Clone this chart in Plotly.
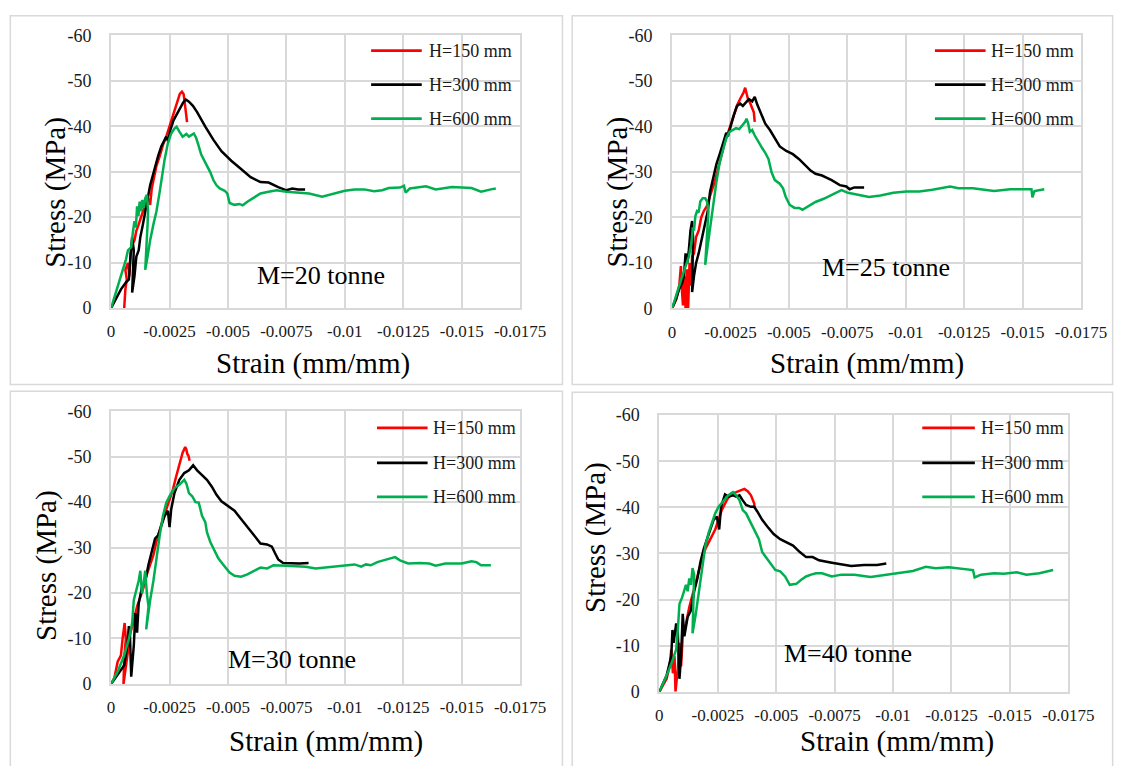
import plotly.graph_objects as go

W, H = 1144, 766
FONT = "Liberation Serif"

# ---------------- data (strain mm/mm, stress MPa) ----------------
strain_ticks = [0, -0.0025, -0.005, -0.0075, -0.01, -0.0125, -0.015, -0.0175]
strain_labels = ["0", "-0.0025", "-0.005", "-0.0075", "-0.01", "-0.0125", "-0.015", "-0.0175"]
stress_ticks = [0, -10, -20, -30, -40, -50, -60]
stress_labels = ["0", "-10", "-20", "-30", "-40", "-50", "-60"]
series_names = ["H=150 mm", "H=300 mm", "H=600 mm"]
panel_labels = ["M=20 tonne", "M=25 tonne", "M=30 tonne", "M=40 tonne"]

m20_h150 = [(-0.00056, 0), (-0.00061, -4.1), (-0.00067, -6.3), (-0.00061, -8.4), (-0.00072, -9.9), (-0.00078, -7.0),
            (-0.00083, -12.0), (-0.00092, -14.1), (-0.00100, -14.9), (-0.00108, -17.0), (-0.00118, -18.4),
            (-0.00128, -19.9), (-0.00139, -21.6), (-0.00150, -23.4), (-0.00160, -24.1), (-0.00167, -22.7),
            (-0.00174, -26.3), (-0.00183, -28.4), (-0.00194, -31.3), (-0.00208, -33.4), (-0.00222, -35.9),
            (-0.00236, -37.7), (-0.00247, -39.5), (-0.00261, -42.0), (-0.00275, -44.1), (-0.00286, -45.9),
            (-0.00294, -47.1), (-0.00303, -47.6), (-0.00310, -47.1), (-0.00314, -45.6), (-0.00319, -43.4),
            (-0.00322, -42.0), (-0.00325, -40.9)]
m20_h300 = [(0, 0), (-0.00021, -2.0), (-0.00042, -4.1), (-0.00063, -5.6), (-0.00076, -6.3), (-0.00083, -11.3),
            (-0.00090, -15.6), (-0.00097, -12.7), (-0.00090, -3.4), (-0.00100, -7.0), (-0.00108, -11.3),
            (-0.00118, -12.7), (-0.00125, -15.6), (-0.00136, -18.4), (-0.00146, -21.3), (-0.00156, -24.1),
            (-0.00167, -27.0), (-0.00178, -29.1), (-0.00189, -31.3), (-0.00201, -33.4), (-0.00215, -35.6),
            (-0.00229, -37.0), (-0.00236, -37.7), (-0.00244, -36.6), (-0.00253, -39.1), (-0.00267, -41.3),
            (-0.00281, -42.7), (-0.00294, -44.1), (-0.00308, -45.2), (-0.00319, -45.9), (-0.00333, -45.4),
            (-0.00350, -44.5), (-0.00368, -43.1), (-0.00403, -39.9), (-0.00438, -37.0), (-0.00472, -34.5),
            (-0.00514, -32.4), (-0.00556, -30.6), (-0.00597, -28.8), (-0.00639, -27.7), (-0.00674, -27.6),
            (-0.00715, -26.6), (-0.00750, -25.9), (-0.00775, -26.3), (-0.00800, -26.1), (-0.00830, -26.1)]
m20_h600 = [(0, 0), (-0.00021, -3.4), (-0.00042, -7.0), (-0.00063, -10.6), (-0.00072, -12.7), (-0.00086, -13.4),
            (-0.00094, -17.0), (-0.00100, -19.1), (-0.00106, -17.7), (-0.00111, -22.4), (-0.00117, -20.2),
            (-0.00122, -23.4), (-0.00128, -21.3), (-0.00133, -23.8), (-0.00139, -22.0), (-0.00146, -24.1),
            (-0.00153, -24.9), (-0.00158, -21.3), (-0.00156, -18.4), (-0.00150, -12.7), (-0.00146, -8.4),
            (-0.00156, -11.3), (-0.00167, -14.9), (-0.00181, -18.4), (-0.00194, -21.3), (-0.00208, -25.6),
            (-0.00219, -29.9), (-0.00229, -32.7), (-0.00243, -36.3), (-0.00257, -38.4), (-0.00271, -39.5),
            (-0.00280, -39.9), (-0.00292, -38.8), (-0.00306, -37.7), (-0.00322, -38.3), (-0.00333, -37.7),
            (-0.00354, -38.4), (-0.00364, -37.4), (-0.00375, -35.6), (-0.00385, -33.8), (-0.00396, -32.7),
            (-0.00410, -31.3), (-0.00424, -29.9), (-0.00438, -28.1), (-0.00451, -27.0), (-0.00465, -26.3),
            (-0.00486, -25.8), (-0.00497, -25.2), (-0.00507, -23.1), (-0.00528, -22.7), (-0.00549, -22.9),
            (-0.00563, -22.6), (-0.00583, -23.4), (-0.00611, -24.3), (-0.00639, -25.2), (-0.00674, -25.6),
            (-0.00708, -25.9), (-0.00750, -25.6), (-0.00800, -25.4), (-0.00847, -25.2), (-0.00903, -24.5),
            (-0.00944, -25.1), (-0.01000, -25.8), (-0.01042, -26.1), (-0.01083, -26.1), (-0.01125, -25.7),
            (-0.01160, -25.9), (-0.01188, -26.4), (-0.01236, -26.5), (-0.01253, -26.9), (-0.01260, -25.4),
            (-0.01278, -26.3), (-0.01306, -26.5), (-0.01347, -26.8), (-0.01389, -26.1), (-0.01458, -26.6),
            (-0.01542, -26.4), (-0.01583, -25.6), (-0.01625, -26.1), (-0.01646, -26.3)]

m25_h150 = [(0, 0), (-0.00019, -2.1), (-0.00031, -5.0), (-0.00038, -9.3), (-0.00042, -4.3), (-0.00047, -0.7),
            (-0.00053, -7.1), (-0.00058, 0), (-0.00064, -8.6), (-0.00069, 0), (-0.00075, -10.0), (-0.00081, -5.0),
            (-0.00086, -11.4), (-0.00094, -12.1), (-0.00103, -15.7), (-0.00114, -17.1), (-0.00125, -20.0),
            (-0.00136, -21.4), (-0.00149, -22.5), (-0.00158, -24.2), (-0.00169, -25.7), (-0.00183, -27.8),
            (-0.00197, -30.6), (-0.00211, -33.5), (-0.00225, -36.4), (-0.00239, -38.5), (-0.00253, -40.6),
            (-0.00267, -42.8), (-0.00281, -44.9), (-0.00294, -46.3), (-0.00306, -47.4), (-0.00313, -48.5),
            (-0.00318, -47.4), (-0.00325, -46.0), (-0.00333, -45.3), (-0.00343, -44.2), (-0.00350, -43.1),
            (-0.00354, -41.0)]
m25_h300 = [(0, 0), (-0.00017, -2.1), (-0.00031, -4.3), (-0.00044, -5.7), (-0.00051, -7.1), (-0.00058, -12.1),
            (-0.00065, -10.0), (-0.00072, -12.8), (-0.00079, -17.1), (-0.00086, -19.2), (-0.00090, -15.7),
            (-0.00086, -3.6), (-0.00094, -7.1), (-0.00103, -10.0), (-0.00114, -12.1), (-0.00128, -15.7),
            (-0.00142, -18.5), (-0.00153, -21.4), (-0.00163, -25.7), (-0.00176, -28.9), (-0.00190, -31.7),
            (-0.00204, -33.9), (-0.00218, -36.4), (-0.00232, -38.6), (-0.00239, -37.8), (-0.00250, -39.9),
            (-0.00264, -42.4), (-0.00278, -44.5), (-0.00292, -45.0), (-0.00303, -44.5), (-0.00315, -45.3),
            (-0.00329, -46.0), (-0.00343, -45.5), (-0.00354, -46.5), (-0.00364, -44.9), (-0.00378, -43.1),
            (-0.00399, -40.6), (-0.00419, -39.2), (-0.00440, -37.4), (-0.00461, -35.6), (-0.00489, -34.6),
            (-0.00517, -33.9), (-0.00544, -32.8), (-0.00572, -31.4), (-0.00593, -30.3), (-0.00614, -29.6),
            (-0.00642, -29.2), (-0.00663, -28.7), (-0.00683, -28.2), (-0.00718, -27.1), (-0.00746, -26.8),
            (-0.00760, -26.2), (-0.00780, -26.6), (-0.00822, -26.6)]
m25_h600 = [(0, 0), (-0.00017, -2.5), (-0.00031, -5.0), (-0.00044, -7.1), (-0.00058, -9.3), (-0.00072, -11.4),
            (-0.00083, -14.3), (-0.00089, -17.8), (-0.00094, -17.1), (-0.00100, -20.3), (-0.00107, -21.4),
            (-0.00114, -21.1), (-0.00121, -23.5), (-0.00131, -24.2), (-0.00142, -24.2), (-0.00150, -23.5),
            (-0.00156, -21.4), (-0.00150, -15.7), (-0.00142, -9.6), (-0.00150, -12.8), (-0.00163, -17.8),
            (-0.00176, -22.8), (-0.00190, -27.8), (-0.00204, -32.1), (-0.00218, -34.9), (-0.00232, -37.4),
            (-0.00246, -38.8), (-0.00260, -39.2), (-0.00274, -39.6), (-0.00288, -39.4), (-0.00301, -40.3),
            (-0.00313, -41.0), (-0.00319, -41.7), (-0.00326, -40.6), (-0.00333, -38.8), (-0.00343, -39.2),
            (-0.00353, -38.1), (-0.00371, -36.4), (-0.00385, -35.3), (-0.00399, -34.2), (-0.00413, -32.8),
            (-0.00426, -29.9), (-0.00440, -28.2), (-0.00461, -27.4), (-0.00475, -26.4), (-0.00486, -24.6),
            (-0.00503, -22.8), (-0.00524, -22.1), (-0.00544, -22.1), (-0.00558, -21.7), (-0.00586, -22.5),
            (-0.00614, -23.4), (-0.00649, -24.1), (-0.00683, -24.9), (-0.00711, -25.7), (-0.00725, -26.0),
            (-0.00753, -25.4), (-0.00795, -25.0), (-0.00843, -24.5), (-0.00892, -24.8), (-0.00947, -25.4),
            (-0.01003, -25.7), (-0.01058, -25.7), (-0.01114, -26.1), (-0.01163, -26.6), (-0.01190, -26.8),
            (-0.01225, -26.4), (-0.01288, -26.4), (-0.01336, -26.1), (-0.01378, -25.8), (-0.01447, -26.2),
            (-0.01503, -26.3), (-0.01538, -26.2), (-0.01542, -24.4), (-0.01551, -25.8), (-0.01593, -26.2)]

m30_h150 = [(0, 0), (-0.00014, -1.3), (-0.00028, -4.9), (-0.00042, -6.3), (-0.00049, -9.9), (-0.00058, -13.4),
            (-0.00063, -9.9), (-0.00056, -5.6), (-0.00053, 0), (-0.00069, -5.6), (-0.00083, -11.3),
            (-0.00097, -14.1), (-0.00111, -17.0), (-0.00125, -19.1), (-0.00139, -21.3), (-0.00153, -24.1),
            (-0.00167, -26.3), (-0.00181, -28.4), (-0.00194, -31.3), (-0.00208, -34.1), (-0.00222, -36.3),
            (-0.00236, -38.4), (-0.00250, -40.6), (-0.00264, -42.7), (-0.00278, -45.6), (-0.00292, -48.4),
            (-0.00306, -50.9), (-0.00317, -52.1), (-0.00322, -51.6), (-0.00326, -50.6), (-0.00331, -50.2),
            (-0.00336, -49.1)]
m30_h300 = [(0, 0), (-0.00028, -2.0), (-0.00056, -4.1), (-0.00069, -8.4), (-0.00076, -12.7), (-0.00081, -9.9),
            (-0.00086, -1.6), (-0.00097, -8.4), (-0.00104, -15.6), (-0.00111, -11.3), (-0.00118, -17.7),
            (-0.00132, -21.3), (-0.00146, -22.7), (-0.00160, -26.3), (-0.00174, -29.1), (-0.00188, -32.0),
            (-0.00201, -32.7), (-0.00215, -34.9), (-0.00229, -37.0), (-0.00243, -38.1), (-0.00250, -34.5),
            (-0.00257, -38.4), (-0.00271, -42.0), (-0.00292, -44.9), (-0.00313, -46.4), (-0.00333, -47.0),
            (-0.00351, -48.1), (-0.00368, -47.0), (-0.00389, -45.9), (-0.00410, -44.9), (-0.00431, -43.4),
            (-0.00451, -41.6), (-0.00472, -40.2), (-0.00500, -39.1), (-0.00528, -38.1), (-0.00556, -36.3),
            (-0.00583, -34.5), (-0.00611, -32.7), (-0.00639, -30.9), (-0.00667, -30.7), (-0.00688, -30.2),
            (-0.00701, -28.8), (-0.00715, -27.4), (-0.00736, -26.6), (-0.00764, -26.5), (-0.00806, -26.5),
            (-0.00845, -26.6)]
m30_h600 = [(0, 0), (-0.00028, -2.7), (-0.00056, -6.3), (-0.00076, -9.9), (-0.00090, -13.4), (-0.00097, -18.4),
            (-0.00104, -19.9), (-0.00111, -21.3), (-0.00118, -22.7), (-0.00125, -24.9), (-0.00132, -19.9),
            (-0.00139, -22.0), (-0.00146, -24.9), (-0.00153, -19.9), (-0.00160, -17.0), (-0.00150, -12.0),
            (-0.00156, -14.5), (-0.00167, -18.4), (-0.00181, -22.7), (-0.00194, -27.7), (-0.00208, -32.7),
            (-0.00222, -37.0), (-0.00236, -39.9), (-0.00250, -41.3), (-0.00271, -43.1), (-0.00292, -43.8),
            (-0.00313, -44.9), (-0.00322, -44.1), (-0.00333, -42.0), (-0.00347, -41.3), (-0.00361, -40.0),
            (-0.00375, -39.9), (-0.00389, -37.0), (-0.00403, -35.6), (-0.00410, -33.4), (-0.00424, -31.3),
            (-0.00438, -29.9), (-0.00458, -27.7), (-0.00479, -26.3), (-0.00507, -24.5), (-0.00528, -23.8),
            (-0.00556, -23.6), (-0.00583, -24.1), (-0.00611, -24.9), (-0.00639, -25.6), (-0.00667, -25.4),
            (-0.00694, -26.1), (-0.00750, -26.0), (-0.00833, -25.8), (-0.00875, -25.4), (-0.00944, -25.8),
            (-0.01000, -26.1), (-0.01042, -26.3), (-0.01070, -25.8), (-0.01090, -26.3), (-0.01111, -26.1),
            (-0.01139, -26.8), (-0.01180, -27.4), (-0.01215, -27.9), (-0.01236, -27.2), (-0.01271, -26.5),
            (-0.01320, -26.6), (-0.01361, -26.5), (-0.01389, -26.0), (-0.01430, -26.5), (-0.01500, -26.5),
            (-0.01542, -27.0), (-0.01563, -26.8), (-0.01583, -26.1), (-0.01625, -26.1)]

m40_h150 = [(0, 0), (-0.00031, -2.8), (-0.00044, -5.6), (-0.00051, -9.2), (-0.00058, -4.0), (-0.00065, -7.7),
            (-0.00069, 0), (-0.00079, -4.9), (-0.00086, -10.6), (-0.00093, -5.5), (-0.00100, -12.0),
            (-0.00114, -14.8), (-0.00128, -18.3), (-0.00142, -21.1), (-0.00156, -23.9), (-0.00169, -26.1),
            (-0.00183, -28.9), (-0.00197, -31.0), (-0.00211, -32.4), (-0.00225, -33.8), (-0.00239, -35.2),
            (-0.00253, -37.3), (-0.00267, -39.4), (-0.00288, -41.5), (-0.00308, -43.0), (-0.00329, -43.3),
            (-0.00350, -43.7), (-0.00364, -44.0), (-0.00378, -43.5), (-0.00392, -42.6), (-0.00406, -40.8),
            (-0.00408, -39.8)]
m40_h300 = [(0, 0), (-0.00031, -3.5), (-0.00051, -7.7), (-0.00056, -13.4), (-0.00061, -10.6), (-0.00065, -12.0),
            (-0.00072, -14.8), (-0.00079, -12.7), (-0.00086, -2.8), (-0.00093, -7.7), (-0.00100, -16.9),
            (-0.00107, -12.0), (-0.00121, -16.2), (-0.00135, -17.6), (-0.00149, -21.8), (-0.00163, -24.6),
            (-0.00176, -28.2), (-0.00190, -31.0), (-0.00204, -33.1), (-0.00218, -35.2), (-0.00232, -37.3),
            (-0.00246, -38.0), (-0.00256, -35.2), (-0.00264, -40.1), (-0.00281, -42.8), (-0.00297, -42.3),
            (-0.00315, -42.6), (-0.00329, -42.3), (-0.00343, -42.6), (-0.00357, -41.5), (-0.00371, -40.5),
            (-0.00392, -40.1), (-0.00406, -40.1), (-0.00419, -39.1), (-0.00440, -37.3), (-0.00461, -35.9),
            (-0.00489, -34.2), (-0.00517, -33.1), (-0.00544, -32.4), (-0.00572, -31.7), (-0.00601, -30.3),
            (-0.00628, -29.2), (-0.00656, -29.2), (-0.00683, -28.5), (-0.00738, -28.0), (-0.00779, -27.6),
            (-0.00821, -27.3), (-0.00876, -27.5), (-0.00932, -27.5), (-0.00971, -27.8)]
m40_h600 = [(0, 0), (-0.00031, -3.5), (-0.00058, -7.0), (-0.00072, -9.2), (-0.00079, -13.4), (-0.00086, -19.0),
            (-0.00097, -20.4), (-0.00107, -21.8), (-0.00114, -23.2), (-0.00121, -21.8), (-0.00128, -24.6),
            (-0.00135, -23.2), (-0.00142, -26.8), (-0.00149, -25.4), (-0.00142, -12.7), (-0.00156, -16.9),
            (-0.00169, -21.8), (-0.00183, -26.8), (-0.00197, -31.7), (-0.00211, -34.5), (-0.00225, -36.6),
            (-0.00239, -38.7), (-0.00253, -40.1), (-0.00274, -41.5), (-0.00294, -42.6), (-0.00315, -43.3),
            (-0.00329, -42.6), (-0.00343, -41.5), (-0.00357, -39.4), (-0.00371, -38.7), (-0.00385, -37.3),
            (-0.00399, -35.9), (-0.00413, -34.5), (-0.00426, -33.1), (-0.00440, -30.3), (-0.00461, -28.9),
            (-0.00482, -27.5), (-0.00496, -26.4), (-0.00517, -26.1), (-0.00538, -25.0), (-0.00558, -23.2),
            (-0.00586, -23.4), (-0.00607, -24.3), (-0.00628, -25.0), (-0.00649, -25.4), (-0.00670, -25.7),
            (-0.00696, -25.7), (-0.00738, -25.0), (-0.00779, -25.4), (-0.00835, -25.4), (-0.00904, -24.9),
            (-0.00974, -25.4), (-0.01029, -25.7), (-0.01085, -26.2), (-0.01140, -27.1), (-0.01182, -26.8),
            (-0.01238, -27.0), (-0.01293, -26.6), (-0.01342, -26.4), (-0.01349, -24.8), (-0.01376, -25.4),
            (-0.01432, -25.7), (-0.01474, -25.6), (-0.01529, -25.9), (-0.01571, -25.4), (-0.01626, -25.7),
            (-0.01685, -26.4)]

# label positions inside each panel (data coordinates)
label_strain = [-0.00898, -0.00917, -0.00773, -0.00806]
label_stress = [-7.1, -9.1, -5.4, -8.2]

# ---------------- layout geometry (pixels) ----------------
def fx(x):
    return x / W


def fy(y):
    return 1 - y / H


panels = [
    dict(data=[m20_h150, m20_h300, m20_h600], xpx=(110, 530), ypx=(26, 306),
         ytitle=(52, 187), xtitle=(317, 363), leg_x=(377, 429, 435), leg_y=(41.7, 76.7, 111.5),
         box=(6.5, 6, 573.5, 384.5)),
    dict(data=[m25_h150, m25_h300, m25_h600], xpx=(686, 1106), ypx=(26, 306.5),
         ytitle=(630, 187), xtitle=(886, 363), leg_x=(956, 1008, 1013), leg_y=(41.7, 76.7, 111.5),
         box=(583.5, 6, 1138.5, 384.5)),
    dict(data=[m30_h150, m30_h300, m30_h600], xpx=(110, 530), ypx=(412, 692),
         ytitle=(43, 570), xtitle=(331, 751), leg_x=(383, 435, 440), leg_y=(429, 465, 500),
         box=(6.5, 391.5, 573.5, 790)),
    dict(data=[m40_h150, m40_h300, m40_h600], xpx=(673, 1093), ypx=(416, 700),
         ytitle=(608, 542), xtitle=(917, 751), leg_x=(943, 997, 1002), leg_y=(429, 465, 500),
         box=(583.5, 392.5, 1138.5, 790)),
]
colors = ["#FF0000", "#000000", "#00B050"]
GRID = "#D9D9D9"
TICKCOL = "#1a1a1a"

fig = go.Figure()
annotations = []
shapes = []
layout = dict(
    width=W, height=H, autosize=False,
    margin=dict(l=0, r=0, t=0, b=0),
    paper_bgcolor="white", plot_bgcolor="white",
    font=dict(family=FONT, color="black"),
    showlegend=False,
)

for i, p in enumerate(panels):
    n = i + 1
    sfx = "" if n == 1 else str(n)
    for k, (ser, name, col) in enumerate(zip(p["data"], series_names, colors)):
        xs = [v[0] for v in ser]
        ys = [v[1] for v in ser]
        fig.add_trace(go.Scatter(
            x=xs, y=ys, mode="lines", name=name,
            line=dict(color=col, width=2.5),
            xaxis=f"x{sfx}", yaxis=f"y{sfx}",
            hoverinfo="skip",
        ))
        # legend entry (sample line + label) placed at the panel's top right
        lx0, lx1, tx = p["leg_x"]
        ly = p["leg_y"][k]
        shapes.append(dict(
            type="line", xref="paper", yref="paper",
            x0=fx(lx0), x1=fx(lx1), y0=fy(ly), y1=fy(ly),
            line=dict(color=col, width=2.8),
        ))
        annotations.append(dict(
            x=fx(tx - 1), y=fy(ly), xref="paper", yref="paper",
            text=name, showarrow=False, xanchor="left", yanchor="middle",
            font=dict(family=FONT, size=18, color=TICKCOL),
        ))
    layout[f"xaxis{sfx}"] = dict(
        domain=[fx(p["xpx"][0]), fx(p["xpx"][1])], anchor=f"y{sfx}",
        range=[0, -0.0175], tickvals=strain_ticks, ticktext=strain_labels,
        showgrid=True, gridcolor=GRID, gridwidth=2, zeroline=False,
        showline=True, linecolor=GRID, linewidth=2, mirror=True,
        ticks="", ticklabelstandoff=7,
        tickfont=dict(family=FONT, size=17, color=TICKCOL),
    )
    layout[f"yaxis{sfx}"] = dict(
        domain=[fy(p["ypx"][1]), fy(p["ypx"][0])], anchor=f"x{sfx}",
        range=[0, -60], tickvals=stress_ticks, ticktext=stress_labels,
        showgrid=True, gridcolor=GRID, gridwidth=2, zeroline=False,
        showline=True, linecolor=GRID, linewidth=2, mirror=True,
        ticks="", ticklabelstandoff=14,
        tickfont=dict(family=FONT, size=18, color=TICKCOL),
    )
    # panel label
    annotations.append(dict(
        x=label_strain[i], y=label_stress[i], xref=f"x{sfx}", yref=f"y{sfx}",
        text=panel_labels[i], showarrow=False, xanchor="center", yanchor="middle",
        font=dict(family=FONT, size=26, color="black"),
    ))
    # axis titles
    annotations.append(dict(
        x=fx(p["ytitle"][0]), y=fy(p["ytitle"][1]), xref="paper", yref="paper",
        text="Stress (MPa)", textangle=-90, showarrow=False,
        xanchor="center", yanchor="middle",
        font=dict(family=FONT, size=29, color="black"),
    ))
    annotations.append(dict(
        x=fx(p["xtitle"][0]), y=fy(p["xtitle"][1]), xref="paper", yref="paper",
        text="Strain (mm/mm)", showarrow=False,
        xanchor="center", yanchor="middle",
        font=dict(family=FONT, size=29, color="black"),
    ))
    # chart border
    b = p["box"]
    shapes.append(dict(
        type="rect", xref="paper", yref="paper",
        x0=fx(b[0]), x1=fx(b[2]), y0=fy(b[3]), y1=fy(b[1]),
        line=dict(color=GRID, width=1.5), fillcolor="rgba(0,0,0,0)", layer="below",
    ))

layout["annotations"] = annotations
layout["shapes"] = shapes
fig.update_layout(**layout)
fig.write_html("out.html")
